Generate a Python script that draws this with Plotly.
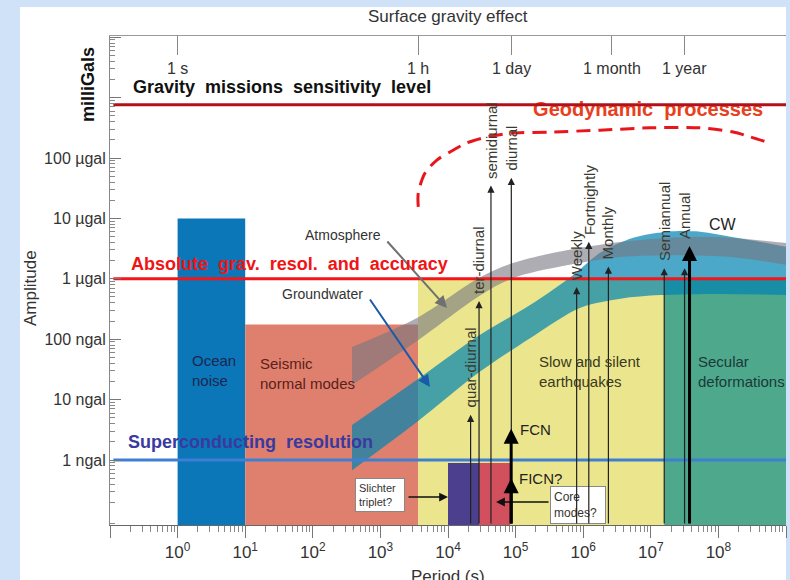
import numpy as np
import plotly.graph_objects as go

FONT = "Liberation Sans"

# ---------------- data ----------------
# bottom axis (period, s) ticks
x_tick_exp = list(range(-1, 10))
x_tick_text = [""] + [f"10<sup>{k}</sup>" for k in range(0, 9)] + [""]
x_minor = [m * 10.0 ** k for k in range(-1, 9) for m in range(2, 10)]

# left axis (amplitude, ngal) ticks
y_tick_vals = [1, 10, 100, 1e3, 1e4, 1e5, 1e6, 1e7]
y_tick_text = ["1 ngal", "10 ngal", "100 ngal", "1 \u00b5gal", "10 \u00b5gal", "100 \u00b5gal", "", ""]
y_minor = [m * 10.0 ** k for k in range(-2, 8) for m in range(2, 10)]

# top axis (period labels)
top_tick_periods = [1, 3600, 86400, 2.63e6, 3.156e7]
top_tick_labels = ["1 s", "1 h", "1 day", "1 month", "1 year"]

# rectangular domains: period range [s] and top amplitude [ngal]
region_names = ["Ocean noise", "Seismic normal modes", "Slow and silent earthquakes",
                "Secular deformations", "Slichter triplet", "Core modes"]
region_t0 = [1, 10, 3600, 1.58e7, 1.0e4, 2.88e4]
region_t1 = [10, 3600, 1.58e7, 1e9, 2.88e4, 8.3e4]
region_top = [1e4, 175, 1e3, 1e3, 0.89, 0.89]
region_bottom = 0.01

# bands (log10 period, log10 amplitude in ngal)
gw_top_logT = [2.58, 3.54, 4.47, 5.22, 5.85, 6.25, 6.74, 7.24, 7.73, 8.22, 8.73, 9.01]
gw_top_logA = [0.58, 1.33, 2.07, 2.57, 3.06, 3.43, 3.68, 3.78, 3.78, 3.69, 3.59, 3.53]
gw_bot_logT = [2.58, 3.54, 4.47, 5.22, 5.96, 6.55, 7.14, 8.03, 9.01]
gw_bot_logA = [-0.17, 0.63, 1.46, 2.02, 2.52, 2.67, 2.73, 2.75, 2.73]

atm_top_logT = [2.58, 3.54, 4.47, 4.96, 5.70, 6.55, 7.44, 8.18, 9.01]
atm_top_logA = [1.87, 2.35, 3.02, 3.26, 3.46, 3.61, 3.69, 3.68, 3.59]
atm_bot_logT = [2.58, 3.54, 4.47, 4.96, 5.70, 6.55, 7.44, 8.18, 9.01]
atm_bot_logA = [1.24, 1.97, 2.72, 3.01, 3.21, 3.36, 3.39, 3.36, 3.23]

# geodynamic processes envelope (dashed)
geo_logT = [3.56, 3.56, 3.66, 3.84, 4.03, 4.28, 4.58, 4.92, 5.51, 6.25, 6.99, 7.73, 8.22, 8.47, 8.70]
geo_logA = [4.19, 4.42, 4.75, 4.97, 5.10, 5.25, 5.35, 5.41, 5.43, 5.46, 5.50, 5.50, 5.43, 5.35, 5.27]

# horizontal instrument levels [ngal]
gravity_missions_level = 7.6e5
absolute_level = 1e3
superconducting_level = 1.0

# tidal lines: period [s], amplitude [ngal]
tide_names = ["quar-diurnal", "ter-diurnal", "semidiurnal", "diurnal", "Weekly",
              "Fortnightly", "Monthly", "Semiannual", "Annual"]
tide_period = [21600, 28800, 43200, 86400, 8.0e5, 1.21e6, 2.36e6, 1.58e7, 3.16e7]
tide_amp = [5.6, 430, 3.5e4, 4.7e4, 730, 4100, 1600, 1500, 1500]

cw_period, cw_amp = 3.74e7, 3500
fcn_period, fcn_amp = 8.6e4, 3.3
ficn_amp = 0.5

# ---------------- layout geometry ----------------
W, H = 790, 580
ML, MR, MT, MB = 110, 4, 36, 55
PW, PH = W - ML - MR, H - MT - MB
XR = [-1.0, 9.0]
YR = [-1.076, 7.02]


def pxx(px):
    return (px - ML) / PW


def pxy(py):
    return (H - MB - py) / PH


fig = go.Figure()

region_colors = ["#0b77b9", "#df806e", "#ebe68d", "#4ea88b", "#4b3f8e", "#d24f5d"]
for t0, t1, top, col in zip(region_t0, region_t1, region_top, region_colors):
    fig.add_trace(go.Scatter(
        x=[t0, t1, t1, t0, t0], y=[region_bottom, region_bottom, top, top, region_bottom],
        mode="lines", fill="toself", fillcolor=col, line=dict(width=0, color="rgba(0,0,0,0)"),
        hoverinfo="skip", showlegend=False))


def band(xt, yt, xb, yb, color):
    fig.add_trace(go.Scatter(
        x=10 ** np.array(xb), y=10 ** np.array(yb), mode="lines",
        line=dict(width=0, color="rgba(0,0,0,0)", shape="spline", smoothing=0.9),
        hoverinfo="skip", showlegend=False))
    fig.add_trace(go.Scatter(
        x=10 ** np.array(xt), y=10 ** np.array(yt), mode="lines", fill="tonexty", fillcolor=color,
        line=dict(width=0, color="rgba(0,0,0,0)", shape="spline", smoothing=0.9),
        hoverinfo="skip", showlegend=False))


band(gw_top_logT, gw_top_logA, gw_bot_logT, gw_bot_logA, "rgba(0,131,176,0.70)")
band(atm_top_logT, atm_top_logA, atm_bot_logT, atm_bot_logA, "rgba(118,118,128,0.60)")

# Geodynamic processes label (below the red level line)
fig.add_trace(go.Scatter(
    x=[10 ** 5.259], y=[10 ** 5.778], mode="text", text=["Geodynamic\u00a0\u00a0processes"],
    textposition="middle right",
    textfont=dict(family=FONT, size=20, color="#e8401c", weight="bold"),
    hoverinfo="skip", showlegend=False))

# dashed envelope
fig.add_trace(go.Scatter(
    x=10 ** np.array(geo_logT), y=10 ** np.array(geo_logA), mode="lines",
    line=dict(color="#e8161b", width=3, dash="14px,8px", shape="spline", smoothing=0.8),
    hoverinfo="skip", showlegend=False))

# horizontal levels
for lvl, col in [(gravity_missions_level, "#b3111a"), (absolute_level, "#f2161b"),
                 (superconducting_level, "#3d80d3")]:
    fig.add_trace(go.Scatter(x=[10 ** -0.95, 10 ** 9.1], y=[lvl, lvl], mode="lines",
                             line=dict(color=col, width=3), hoverinfo="skip", showlegend=False))

# dummy trace for the top axis
fig.add_trace(go.Scatter(x=[1], y=[1], xaxis="x2", yaxis="y", mode="markers",
                         marker=dict(opacity=0), hoverinfo="skip", showlegend=False))


def ann(text, x, y, size=15, color="#333", xanchor="center", yanchor="middle",
        xref="x", yref="y", angle=0, **kw):
    fig.add_annotation(text=text, x=x, y=y, xref=xref, yref=yref, showarrow=False,
                       font=dict(size=size, color=color, family=FONT),
                       xanchor=xanchor, yanchor=yanchor, textangle=angle, **kw)


# boxes (drawn first so the tide lines pass over them)
ann("Slichter<br>triplet?", 2.993, -0.579, size=11, color="#333", align="left",
    bgcolor="white", bordercolor="#888", borderwidth=1, borderpad=3, width=42)
ann("Core<br>modes?", 5.926, -0.745, size=12, color="#333", align="left",
    bgcolor="white", bordercolor="#888", borderwidth=1, borderpad=3, width=48)

# arrows from boxes
fig.add_annotation(x=4.0, y=-0.613, ax=-41, ay=0, text="", showarrow=True, arrowhead=2,
                   arrowsize=1.1, arrowwidth=1.6, arrowcolor="#111", standoff=0)
fig.add_annotation(x=4.711, y=-0.695, ax=54, ay=0, text="", showarrow=True, arrowhead=2,
                   arrowsize=1.1, arrowwidth=1.6, arrowcolor="#111", standoff=0)

# tidal arrows and labels
for name, T, A in zip(tide_names, tide_period, tide_amp):
    fig.add_annotation(x=np.log10(T), y=np.log10(A), ax=np.log10(T), ay=YR[0],
                       axref="x", ayref="y", text="", showarrow=True, arrowhead=2,
                       arrowsize=1.2, arrowwidth=1.2, arrowcolor="#222", standoff=0)
    base = cw_amp if name == "Annual" else A
    ann(name, np.log10(T), np.log10(base), size=15, color="#3a3a30", angle=-90,
        yanchor="bottom", yshift=5)

# thick arrows: CW, FCN, FICN
for T, A in [(cw_period, cw_amp), (fcn_period, fcn_amp), (fcn_period, ficn_amp)]:
    fig.add_annotation(x=np.log10(T), y=np.log10(A), ax=np.log10(T), ay=YR[0],
                       axref="x", ayref="y", text="", showarrow=True, arrowhead=2,
                       arrowsize=1.0, arrowwidth=3, arrowcolor="#000", standoff=0)
ann("CW", 8.074, 3.891, size=16, color="#222")
ann("FCN", 5.037, 0.497, size=15, color="#222", xanchor="left")
ann("FICN?", 5.022, -0.298, size=15, color="#222", xanchor="left")

# region labels
ann("Ocean<br>noise", 0.178, 1.482, color="#1a2850", xanchor="left", align="left")
ann("Seismic<br>normal modes", 1.185, 1.432, color="#5a2018", xanchor="left", align="left")
ann("Slow and silent<br>earthquakes", 5.319, 1.465, color="#3a3a20", xanchor="left", align="left")
ann("Secular<br>deformations", 7.674, 1.465, color="#1a3a38", xanchor="left", align="left")

# band labels with arrows
ann("Atmosphere", 2.444, 3.725, size=14, color="#333")
fig.add_annotation(x=3.985, y=2.517, ax=-61, ay=-68, text="", showarrow=True, arrowhead=2,
                   arrowsize=1.2, arrowwidth=2, arrowcolor="#707070", standoff=0)
ann("Groundwater", 2.148, 2.748, size=14, color="#333")
fig.add_annotation(x=3.733, y=1.209, ax=-61, ay=-89, text="", showarrow=True, arrowhead=2,
                   arrowsize=1.2, arrowwidth=2, arrowcolor="#1a5aa8", standoff=0)

# level labels
ann("<b>Gravity\u00a0\u00a0missions\u00a0\u00a0sensitivity\u00a0\u00a0level</b>", -0.696, 6.175,
    size=18, color="#111", xanchor="left")
ann("<b>Absolute\u00a0\u00a0grav.\u00a0\u00a0resol.\u00a0\u00a0and\u00a0\u00a0accuracy</b>", -0.726, 3.245,
    size=18, color="#f01414", xanchor="left")
ann("<b>Superconducting\u00a0\u00a0resolution</b>", -0.770, 0.298,
    size=18, color="#3a39a0", xanchor="left")

# top axis labels
for T, lab in zip(top_tick_periods, top_tick_labels):
    ann(lab, np.log10(T), pxy(68), size=16, color="#333", yref="paper")

# titles
ann("Surface gravity effect", 0.5, pxy(16), size=17, color="#333", xref="paper", yref="paper")
ann("Period (s)", 0.5, pxy(576), size=17, color="#333", xref="paper", yref="paper")
ann("Amplitude", pxx(30), pxy(288), size=17, color="#333", xref="paper", yref="paper", angle=-90)
ann("<b>milliGals</b>", pxx(88), pxy(85), size=18, color="#111", xref="paper", yref="paper", angle=-90)

fig.update_layout(
    width=W, height=H, margin=dict(l=ML, r=MR, t=MT, b=MB),
    paper_bgcolor="#d0e2f7", plot_bgcolor="white", showlegend=False, hovermode=False,
    font=dict(family=FONT, size=15, color="#333"),
    shapes=[dict(type="rect", xref="paper", yref="paper", x0=pxx(20), x1=pxx(786),
                 y0=pxy(580), y1=pxy(7), fillcolor="white", line=dict(width=0), layer="below")],
    xaxis=dict(type="log", range=XR, tickmode="array", tickvals=[10.0 ** k for k in x_tick_exp],
               ticktext=x_tick_text, ticks="outside", ticklen=12, tickcolor="#777", tickwidth=1,
               showline=True, linecolor="#666", linewidth=1, showgrid=False, zeroline=False,
               tickfont=dict(size=17, color="#333", family=FONT),
               minor=dict(tickmode="array", tickvals=x_minor, ticks="outside", ticklen=6,
                          tickcolor="#888", tickwidth=1, showgrid=False)),
    xaxis2=dict(type="log", range=XR, overlaying="x", side="top", anchor="y", tickmode="array",
                tickvals=top_tick_periods, ticks="inside", ticklen=19, tickcolor="#888",
                showticklabels=False, showline=True, linecolor="#999", linewidth=1, showgrid=False),
    yaxis=dict(type="log", range=YR, tickmode="array", tickvals=y_tick_vals, ticktext=y_tick_text,
               ticks="inside", ticklen=11, tickcolor="#777", tickwidth=1, showline=True,
               linecolor="#888", linewidth=1, showgrid=False, zeroline=False,
               tickfont=dict(size=16, color="#333", family=FONT),
               minor=dict(tickmode="array", tickvals=y_minor, ticks="inside", ticklen=5,
                          tickcolor="#888", tickwidth=1, showgrid=False)),
)

fig.write_html("out.html")
